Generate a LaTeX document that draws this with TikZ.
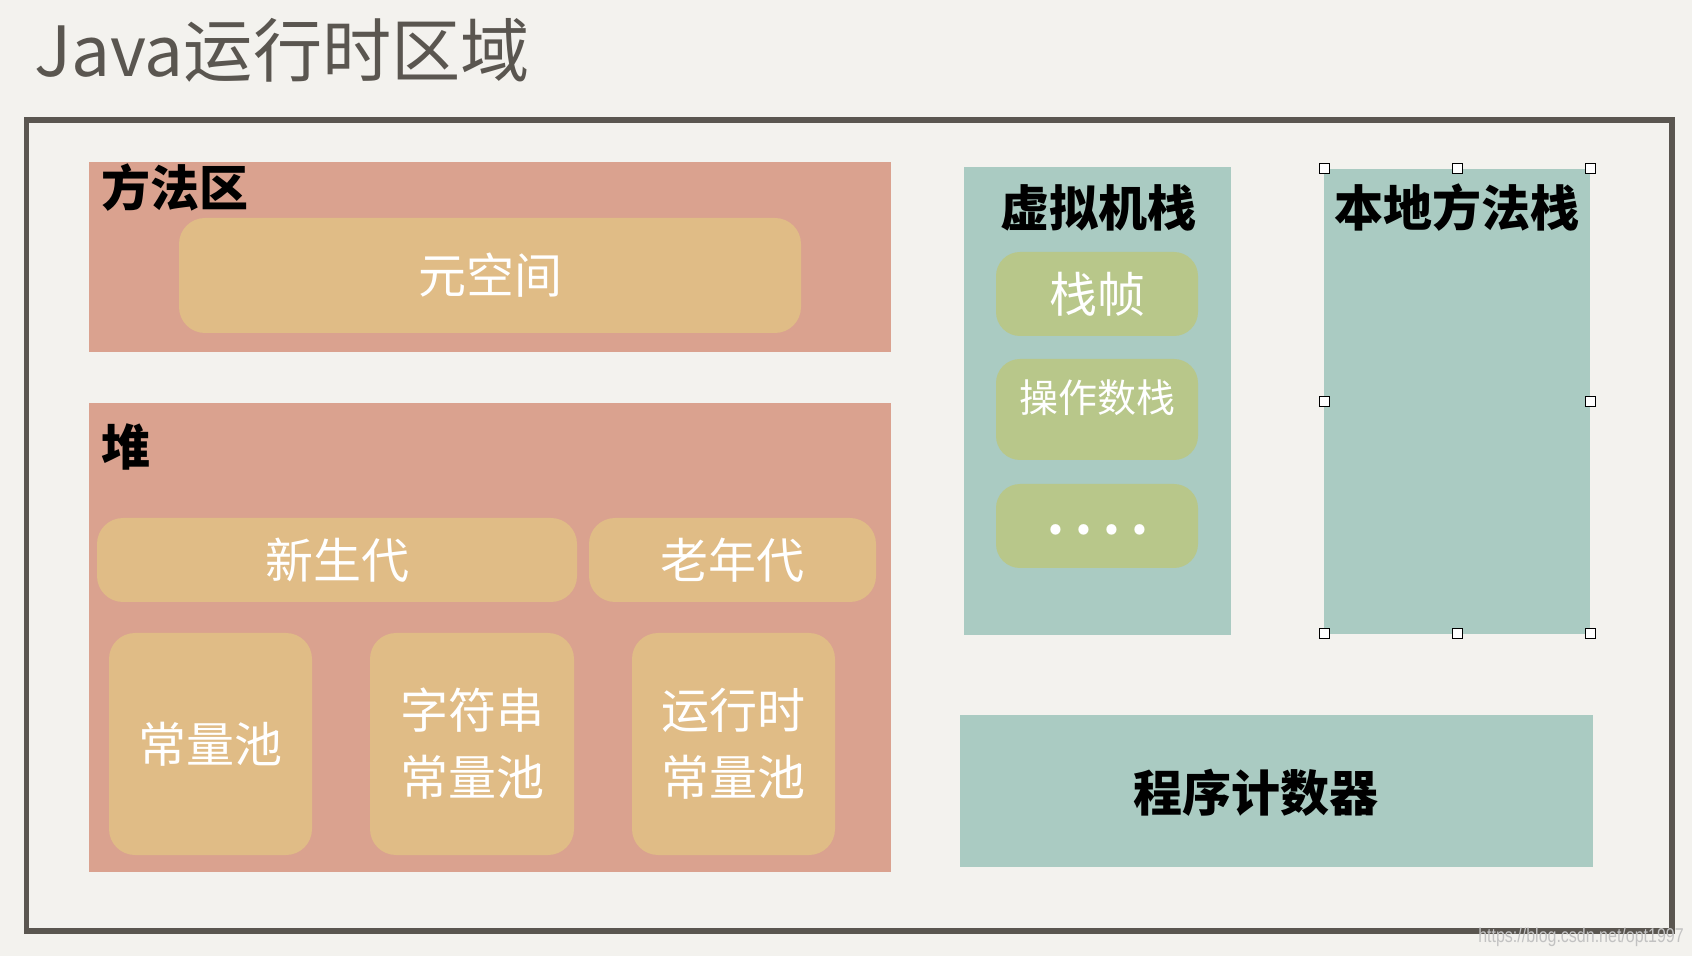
\documentclass[tikz,border=0pt]{standalone}
\usepackage{fontspec}
\usepackage{xcolor}
\usepackage{tikz}
\usetikzlibrary{positioning,calc}
\newfontfamily\cjk{Noto Sans CJK SC}
\newfontfamily\wmfont{Liberation Sans}
\definecolor{paper}{HTML}{F3F2EE}
\definecolor{framegray}{HTML}{5A5650}
\definecolor{salmon}{HTML}{DAA28F}
\definecolor{tan}{HTML}{E0BC86}
\definecolor{teal}{HTML}{AACBC2}
\definecolor{sage}{HTML}{B8C78A}
\tikzset{
    area/.style={fill=salmon, inner sep=0},
    stackarea/.style={fill=teal, inner sep=0},
    pool/.style={fill=tan, inner sep=0, rounded corners=13pt, text=white, align=center,
        font={\cjk\fontsize{24}{33.5}\selectfont}},
    slot/.style={fill=sage, inner sep=0, rounded corners=12pt, text=white,
        font={\cjk\fontsize{24}{30}\selectfont}},
    heading/.style={inner sep=0, text=black, font={\cjk\bfseries\fontsize{24.5}{30}\selectfont}},
    handle/.style={draw=black, fill=white, line width=0.5pt, minimum size=5pt, inner sep=0}
}
\begin{document}
\begin{tikzpicture}[x=0.5pt, y=-0.5pt]
    \useasboundingbox (0,0) rectangle (1692,956);
    \fill[paper] (0,0) rectangle (1692,956);
    % Title and frame
    \node[anchor=base west, inner sep=0, text=framegray, font={\cjk\fontsize{34.6}{40}\selectfont}] (title) at (34,77) {Java运行时区域};
    \draw[framegray, line width=2.7pt] (26.5,120) rectangle (1672,931);

    % Method area
    \node[area, minimum width=401pt, minimum height=95pt] (methodarea) at (490,257) {};
    \node[pool, minimum width=311pt, minimum height=57.5pt] (metaspace) at (490,275.5) {元空间};

    % Heap
    \node[area, minimum width=401pt, minimum height=234.5pt] (heap) at (490,637.5) {};
    \node[pool, minimum width=240pt, minimum height=42pt] (young) at (337,560) {新生代};
    \node[pool, minimum width=143.5pt, minimum height=42pt] (old) at (732.5,560) {老年代};
    \node[pool, minimum width=101.5pt, minimum height=111pt] (constpool) at (210.5,744) {常量池};
    \node[pool, minimum width=102pt, minimum height=111pt] (strpool) at (472,744) {字符串\\常量池};
    \node[pool, minimum width=101.5pt, minimum height=111pt] (rtpool) at (733.5,744) {运行时\\常量池};

    % JVM stack
    \node[stackarea, minimum width=133.5pt, minimum height=234pt] (jvmstack) at (1097.5,401) {};
    \node[slot, minimum width=101pt, minimum height=42pt] (stackframe) at (1097,294) {栈帧};
    \node[slot, minimum width=101pt, minimum height=50.5pt] (operand) at (1097,409.5) {};
    \node[inner sep=0, text=white, font={\cjk\fontsize{19.5}{24}\selectfont}] (operandtext) at (1097,397.5) {操作数栈};
    \node[slot, minimum width=101pt, minimum height=42pt] (more) at (1097,526) {};
    \node[inner sep=0, text=white, font={\cjk\bfseries\fontsize{24}{30}\selectfont}] (dots) at (1098,530) {.\ .\ .\ .};

    % Native method stack
    \node[stackarea, minimum width=133pt, minimum height=232.5pt] (nativestack) at (1457,401.5) {};
    \foreach \hx/\hy [count=\i] in {1324/169, 1457/169, 1590/169, 1324/401.5, 1590/401.5, 1324/634, 1457/634, 1590/634} {
        \node[handle] (handle\i) at (\hx,\hy) {};
    }

    % Program counter
    \node[stackarea, minimum width=316.5pt, minimum height=76pt] (pc) at (1276.5,791) {};

    % Labels
    \node[heading, anchor=west] (methodlabel) at (101,188) {方法区};
    \node[heading, anchor=west] (heaplabel) at (101,447) {堆};
    \node[heading] (jvmlabel) at (1098,208) {虚拟机栈};
    \node[heading] (nativelabel) at (1457,208) {本地方法栈};
    \node[heading] (pclabel) at (1256,793) {程序计数器};

    % Watermark
    \node[inner sep=0, text=black!24, xscale=0.8, font={\wmfont\fontsize{10}{11}\selectfont}] (watermark) at (1581,937) {https://blog.csdn.net/opt1997};
\end{tikzpicture}
\end{document}
